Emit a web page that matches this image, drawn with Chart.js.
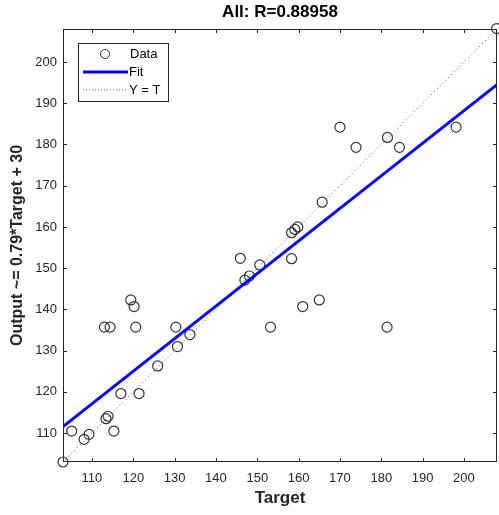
<!DOCTYPE html>
<html>
<head>
<meta charset="utf-8">
<script src="https://cdn.jsdelivr.net/npm/chart.js@4.4.1/dist/chart.umd.min.js"></script>
<style>
  html, body { margin: 0; padding: 0; background: #fff; }
  #wrap { width: 499px; height: 515px; }
</style>
</head>
<body>
<div id="wrap"><canvas id="regChart" width="499" height="515"></canvas></div>
<script>
// values
const targetVals = [103, 105.1, 108.1, 109.3, 113.4, 113.9, 115.3, 117.0, 121.4, 113.0,
                    114.4, 119.4, 120.2, 120.6, 125.9, 130.3, 130.7, 133.7, 145.9, 147.0,
                    148.1, 150.6, 153.2, 158.3, 161.0, 165.0, 181.4, 170.0, 173.9, 181.5,
                    184.4, 198.1, 165.7, 158.3, 159.1, 159.8, 207.9];
const outputVals = [103, 110.5, 108.5, 109.7, 113.5, 114.1, 110.5, 119.6, 119.6, 135.7,
                    135.7, 142.3, 140.7, 135.7, 126.3, 135.7, 131.0, 133.9, 152.4, 147.1,
                    148.1, 150.8, 135.7, 152.3, 140.7, 142.3, 135.7, 184.2, 179.3, 181.7,
                    179.3, 184.2, 166.0, 158.6, 159.4, 160.0, 208.1];
const fitX = [103, 208];
const fitY = [111.6, 194.5];
const identX = [103, 208];
const identY = [103, 208];
const xTicks = [110, 120, 130, 140, 150, 160, 170, 180, 190, 200];
const yTicks = [110, 120, 130, 140, 150, 160, 170, 180, 190, 200];

const axisColor = '#262626';
const fontFam = '"Liberation Sans", Arial, Helvetica, sans-serif';

function pts(xs, ys) {
    return xs.map((x, i) => ({ x: x, y: ys[i] }));
}

// box, inward ticks, title and legend like the matlab figure
const matlabLook = {
    id: 'matlabLook',
    afterDatasetsDraw(chart) {
        let ctx = chart.ctx;
        let a = chart.chartArea;
        let sx = chart.scales.x, sy = chart.scales.y;
        ctx.save();
        ctx.strokeStyle = axisColor;
        ctx.lineWidth = 1;
        ctx.strokeRect(a.left + 0.5, a.top + 0.5, a.right - a.left - 1, a.bottom - a.top - 1);
        ctx.beginPath();
        xTicks.forEach(v => {
            let px = Math.round(sx.getPixelForValue(v)) + 0.5;
            ctx.moveTo(px, a.bottom); ctx.lineTo(px, a.bottom - 4);
            ctx.moveTo(px, a.top); ctx.lineTo(px, a.top + 4);
        });
        yTicks.forEach(v => {
            let py = Math.round(sy.getPixelForValue(v)) + 0.5;
            ctx.moveTo(a.left, py); ctx.lineTo(a.left + 4, py);
            ctx.moveTo(a.right, py); ctx.lineTo(a.right - 4, py);
        });
        ctx.stroke();

        // title
        ctx.fillStyle = '#000';
        ctx.font = 'bold 17px ' + fontFam;
        ctx.textAlign = 'center';
        ctx.textBaseline = 'middle';
        ctx.fillText('All: R=0.88958', (a.left + a.right) / 2, 12);

        // legend
        let lx = a.left + 15, ly = a.top + 14, lw = 90, lh = 58;
        ctx.fillStyle = '#fff';
        ctx.fillRect(lx, ly, lw, lh);
        ctx.strokeStyle = axisColor;
        ctx.strokeRect(lx + 0.5, ly + 0.5, lw, lh);
        ctx.font = '13px ' + fontFam;
        ctx.textAlign = 'left';
        ctx.fillStyle = '#000';
        let rows = [ly + 11, ly + 29, ly + 47];
        ctx.beginPath();
        ctx.arc(lx + 27, rows[0], 4.5, 0, Math.PI * 2);
        ctx.strokeStyle = '#333';
        ctx.stroke();
        ctx.fillText('Data', lx + 52, rows[0]);
        ctx.beginPath();
        ctx.strokeStyle = '#0000ff';
        ctx.lineWidth = 3;
        ctx.moveTo(lx + 5, rows[1]); ctx.lineTo(lx + 50, rows[1]);
        ctx.stroke();
        ctx.fillText('Fit', lx + 51, rows[1]);
        ctx.beginPath();
        ctx.strokeStyle = '#666';
        ctx.lineWidth = 1;
        ctx.setLineDash([1, 2]);
        ctx.moveTo(lx + 5, rows[2]); ctx.lineTo(lx + 48, rows[2]);
        ctx.stroke();
        ctx.setLineDash([]);
        ctx.fillText('Y = T', lx + 51, rows[2]);
        ctx.restore();
    }
};

let chartElement = document.getElementById('regChart').getContext('2d');
let regChart = new Chart(chartElement, {
    type: 'scatter',
    data: {
        datasets: [
            {
                label: 'Data',
                data: pts(targetVals, outputVals),
                pointStyle: 'circle',
                pointRadius: 5,
                pointBorderWidth: 1.2,
                pointBorderColor: '#333333',
                pointBackgroundColor: 'rgba(0,0,0,0)',
                showLine: false,
                clip: false,
                order: 3
            },
            {
                label: 'Fit',
                data: pts(fitX, fitY),
                showLine: true,
                borderColor: '#0000ff',
                borderWidth: 3,
                pointRadius: 0,
                order: 1
            },
            {
                label: 'Y = T',
                data: pts(identX, identY),
                showLine: true,
                borderColor: '#555555',
                borderWidth: 1,
                borderDash: [1, 3],
                pointRadius: 0,
                order: 2
            }
        ]
    },
    options: {
        responsive: false,
        animation: false,
        events: [],
        layout: { autoPadding: false, padding: { top: 29, right: 2, left: 0, bottom: 0 } },
        plugins: {
            legend: { display: false },
            tooltip: { enabled: false },
            title: { display: false }
        },
        scales: {
            x: {
                type: 'linear',
                min: 103,
                max: 208,
                afterBuildTicks: axis => { axis.ticks = xTicks.map(v => ({ value: v })); },
                afterFit: scale => { scale.height = 53; scale.paddingLeft = 0; scale.paddingRight = 0; },
                grid: { display: false, drawTicks: false },
                border: { display: false },
                ticks: { color: axisColor, font: { size: 13, family: fontFam }, padding: 9, maxRotation: 0 },
                title: {
                    display: true,
                    text: 'Target',
                    color: axisColor,
                    font: { size: 17, weight: 'bold', family: fontFam },
                    padding: { top: 0, bottom: 6 }
                }
            },
            y: {
                type: 'linear',
                min: 103,
                max: 208,
                afterBuildTicks: axis => { axis.ticks = yTicks.map(v => ({ value: v })); },
                afterFit: scale => { scale.width = 63; scale.paddingTop = 0; scale.paddingBottom = 0; },
                grid: { display: false, drawTicks: false },
                border: { display: false },
                ticks: { color: axisColor, font: { size: 13, family: fontFam }, padding: 6 },
                title: {
                    display: true,
                    text: 'Output ~= 0.79*Target + 30',
                    color: axisColor,
                    font: { size: 16, weight: 'bold', family: fontFam },
                    padding: { top: 8, bottom: 0 }
                }
            }
        }
    },
    plugins: [matlabLook]
});
</script>
</body>
</html>
